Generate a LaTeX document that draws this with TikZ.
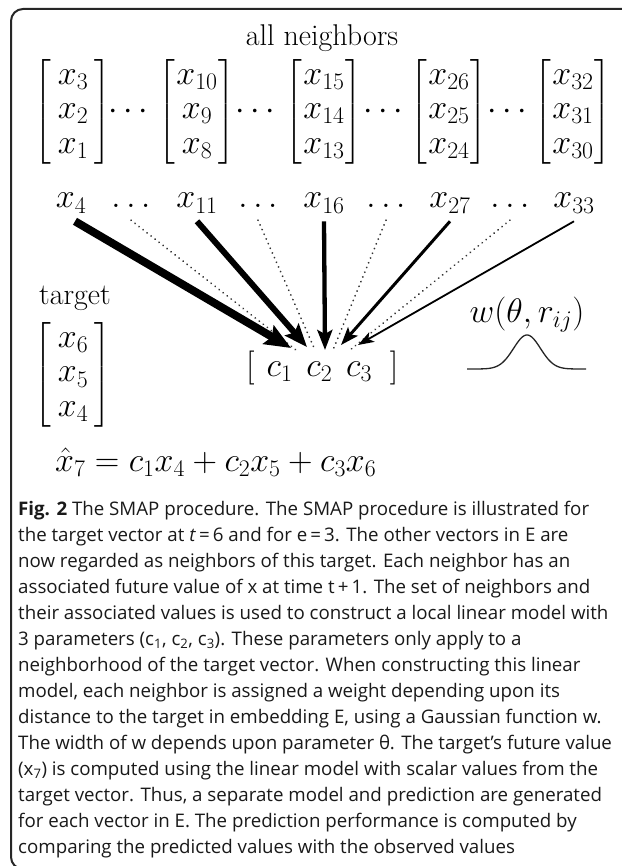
\RequirePackage{fix-cm}
\documentclass[tikz,border=0pt]{standalone}
\usepackage{amsmath}
\usepackage{fontspec}
\newfontfamily\capfont{Open Sans}
\usetikzlibrary{arrows.meta}
\newcommand{\mcell}[1]{\makebox[43pt]{$#1$}}
\tikzset{
  mth/.style={inner sep=0pt, font=\fontsize{34}{34.5}\selectfont},
  lbl/.style={inner sep=0pt, font=\fontsize{30}{36}\selectfont},
  wline/.style n args={3}{line width=#1, -{Stealth[length=#2, width=#3, inset=4pt]}},
  dotline/.style={line width=1.9pt, line cap=round, dash pattern=on 0.1pt off 5pt, black!80},
  frame/.style={line width=2pt, draw=black!85, rounded corners=12pt}
}
\begin{document}
\begin{tikzpicture}[x=1pt,y=-1pt]
\useasboundingbox (0,0) rectangle (621,866);
\draw[frame] (640,9) -- (11,9) -- (11,869) -- (60,869);

\node[lbl] (allnb) at (322,38) {all neighbors};

\node[mth] (m1) at (73,112) {$\begin{bmatrix}\mcell{x_3}\\\mcell{x_2}\\\mcell{x_1}\end{bmatrix}$};
\node[mth] (md1) at (131,112) {$\cdots$};
\node[mth] (m2) at (197,112) {$\begin{bmatrix}\mcell{x_{10}}\\\mcell{x_9}\\\mcell{x_8}\end{bmatrix}$};
\node[mth] (md2) at (258,112) {$\cdots$};
\node[mth] (m3) at (324,112) {$\begin{bmatrix}\mcell{x_{15}}\\\mcell{x_{14}}\\\mcell{x_{13}}\end{bmatrix}$};
\node[mth] (md3) at (386,112) {$\cdots$};
\node[mth] (m4) at (449,112) {$\begin{bmatrix}\mcell{x_{26}}\\\mcell{x_{25}}\\\mcell{x_{24}}\end{bmatrix}$};
\node[mth] (md4) at (510,112) {$\cdots$};
\node[mth] (m5) at (573,112) {$\begin{bmatrix}\mcell{x_{32}}\\\mcell{x_{31}}\\\mcell{x_{30}}\end{bmatrix}$};

\node[mth,anchor=base] (x4) at (71,208) {$x_4$};
\node[mth,anchor=base] (d1) at (131,208) {$\ldots$};
\node[mth,anchor=base] (x11) at (197,208) {$x_{11}$};
\node[mth,anchor=base] (d2) at (258,208) {$\ldots$};
\node[mth,anchor=base] (x16) at (324,208) {$x_{16}$};
\node[mth,anchor=base] (d3) at (386,208) {$\ldots$};
\node[mth,anchor=base] (x27) at (450,208) {$x_{27}$};
\node[mth,anchor=base] (d4) at (510,208) {$\ldots$};
\node[mth,anchor=base] (x33) at (574,208) {$x_{33}$};

\coordinate (e4) at (291,348);
\coordinate (e11) at (307,347);
\coordinate (e16) at (325,350);
\coordinate (e27) at (341,345);
\coordinate (e33) at (358,345);
\coordinate (f1) at (296,350);
\coordinate (f2) at (315,350);
\coordinate (f3) at (333,350);
\coordinate (f4) at (350,350);

\draw[dotline] ([yshift=-12pt]d1.south) -- (f1);
\draw[dotline] ([yshift=-12pt]d2.south) -- (f2);
\draw[dotline] ([yshift=-12pt]d3.south) -- (f3);
\draw[dotline] ([yshift=-12pt]d4.south) -- (f4);

\draw[wline={8pt}{26pt}{21pt}] ([xshift=4pt,yshift=-8pt]x4.south) -- (e4);
\draw[wline={6pt}{23pt}{18pt}] ([yshift=-8pt]x11.south) -- (e11);
\draw[wline={4.3pt}{20pt}{15pt}] ([yshift=-8pt]x16.south) -- (e16);
\draw[wline={3pt}{18pt}{13pt}] ([yshift=-8pt]x27.south) -- (e27);
\draw[wline={1.8pt}{16pt}{11pt}] ([yshift=-8pt]x33.south) -- (e33);

\node[lbl] (tgt) at (75,298) {target};
\node[mth] (tm) at (73,375) {$\begin{bmatrix}\mcell{x_6}\\\mcell{x_5}\\\mcell{x_4}\end{bmatrix}$};

\node[mth,anchor=west] (cv) at (246,368) {$[\hspace{12pt}c_1\hspace{14pt}c_2\hspace{14pt}c_3\hspace{18pt}]$};

\node[mth] (wlab) at (527,315) {$w(\theta,r_{ij})$};
\draw[line width=1.3pt, black!85] plot[domain=467:586, samples=120, smooth] (\x, {369-34*exp(-((\x-527)/19)^2)});

\node[mth,anchor=west] (eq) at (55,462) {$\hat{x}_7 = c_1x_4 + c_2x_5 + c_3x_6$};

\node[anchor=north west, align=left, inner sep=0pt, text=black!90, font=\capfont\fontsize{18.7}{26}\selectfont] (cap) at (18,501) {%
\textbf{Fig. 2} The SMAP procedure. The SMAP procedure is illustrated for\\
the target vector at \textit{t}\,=\,6 and for e\,=\,3. The other vectors in E are\\
now regarded as neighbors of this target. Each neighbor has an\\
associated future value of x at time t\,+\,1. The set of neighbors and\\
their associated values is used to construct a local linear model with\\
3 parameters (c\textsubscript{1}, c\textsubscript{2}, c\textsubscript{3}). These parameters only apply to a\\
neighborhood of the target vector. When constructing this linear\\
model, each neighbor is assigned a weight depending upon its\\
distance to the target in embedding E, using a Gaussian function w.\\
The width of w depends upon parameter θ. The target’s future value\\
(x\textsubscript{7}) is computed using the linear model with scalar values from the\\
target vector. Thus, a separate model and prediction are generated\\
for each vector in E. The prediction performance is computed by\\
comparing the predicted values with the observed values};
\end{tikzpicture}
\end{document}
